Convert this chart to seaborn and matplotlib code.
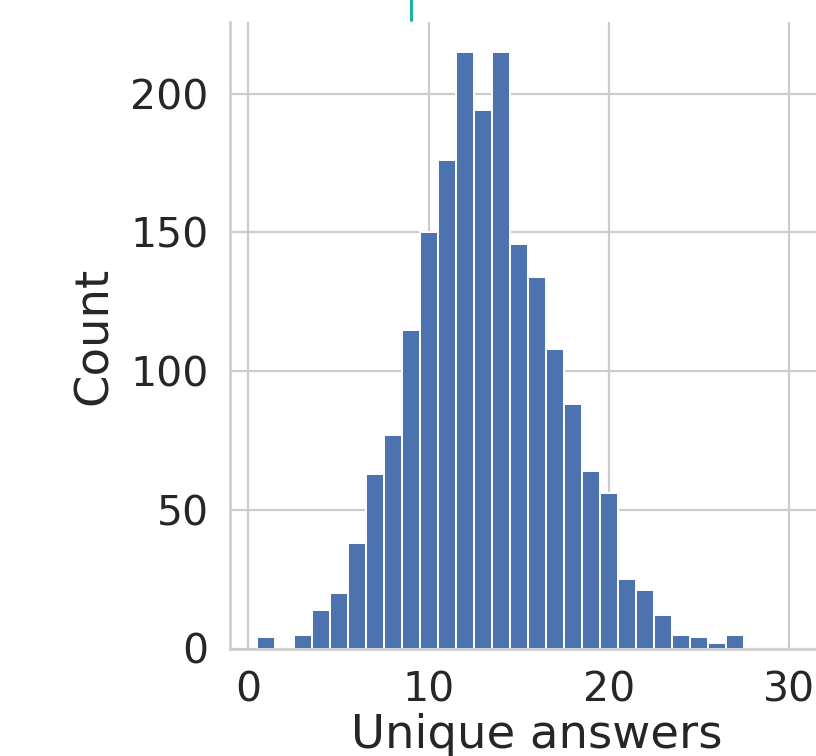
import matplotlib
matplotlib.use("Agg")
import matplotlib.pyplot as plt
import seaborn as sns
import numpy as np

# Data: number of unique answers (integer bins) and their counts
unique_answers = [1, 2, 3, 4, 5, 6, 7, 8, 9, 10, 11, 12, 13, 14, 15, 16,
                  17, 18, 19, 20, 21, 22, 23, 24, 25, 26, 27, 28, 29, 30, 31]
counts = [4, 0, 5, 14, 20, 38, 63, 77, 115, 150, 176, 215, 194, 215, 146, 134,
          108, 88, 64, 56, 25, 21, 12, 5, 4, 2, 5, 0, 0, 0, 0]
x_ticks = [0, 10, 20, 30]
y_ticks = [0, 50, 100, 150, 200]
marker_x = 9  # teal marker visible above the panel

sns.set_theme(style="whitegrid")
plt.rcParams.update({
    "grid.color": "#cccccc",
    "grid.linewidth": 1.6,
    "axes.edgecolor": "#cccccc",
    "axes.linewidth": 1.9,
    "text.color": "#262626",
    "axes.labelcolor": "#262626",
    "xtick.color": "#262626",
    "ytick.color": "#262626",
})
plt.rcParams["font.family"] = ["DejaVu Sans"]

fig = plt.figure(figsize=(8.16, 7.56), dpi=100)
ax = fig.add_axes([229.5 / 816, (756 - 648.5) / 756, 614.8 / 816, 626.2 / 756])

sns.histplot(x=unique_answers, weights=counts, discrete=True, ax=ax,
             color="#4C72B0", alpha=1.0, edgecolor="white", linewidth=1.4)

ax.set_xticks(x_ticks)
ax.set_yticks(y_ticks)
ax.tick_params(axis="x", labelsize=29.5, pad=16, length=0)
ax.tick_params(axis="y", labelsize=29.5, pad=15, length=0)
ax.set_xlabel("Unique answers", fontsize=33.5, labelpad=2)
ax.set_ylabel("Count", fontsize=33.5, labelpad=10)
sns.despine(ax=ax, top=True, right=True)

ax.axvline(marker_x, ymin=1.003, ymax=1.08, color="lightseagreen",
           linewidth=2.2, clip_on=False)

fig.savefig("out.png", dpi=100)
